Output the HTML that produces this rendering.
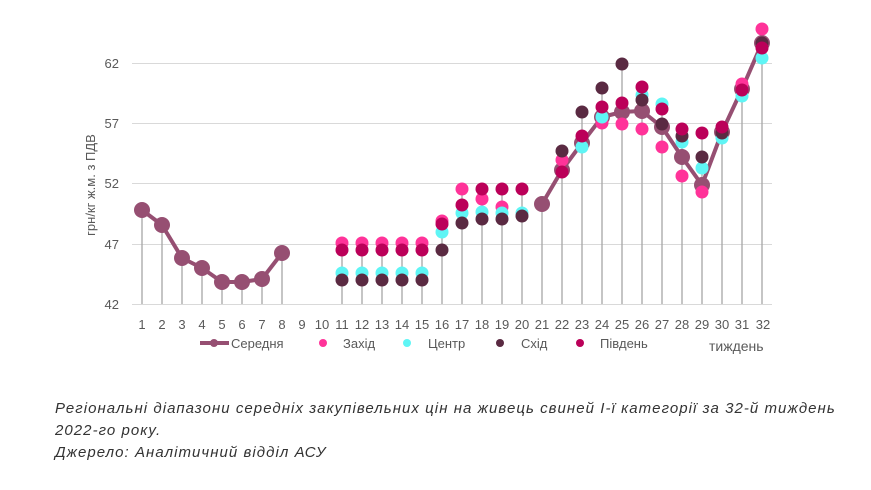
<!DOCTYPE html>
<html><head><meta charset="utf-8"><style>
body{margin:0;background:#fff;width:871px;height:490px;overflow:hidden;font-family:"Liberation Sans",sans-serif}
svg text{font-family:"Liberation Sans",sans-serif}
.cap{position:absolute;left:55px;font-style:italic;font-size:15px;color:#333;line-height:22px;letter-spacing:1.05px;white-space:nowrap}
</style></head><body>
<svg id="s" width="871" height="390" style="position:absolute;left:0;top:0">
<g stroke="#d9d9d9" stroke-width="1">
<line x1="132" x2="772" y1="63.5" y2="63.5"/><line x1="132" x2="772" y1="123.5" y2="123.5"/>
<line x1="132" x2="772" y1="183.5" y2="183.5"/><line x1="132" x2="772" y1="244.5" y2="244.5"/>
<line x1="132" x2="772" y1="304.5" y2="304.5"/>
</g>
<g font-size="13" fill="#595959" text-anchor="end">
<text x="119" y="68">62</text><text x="119" y="128">57</text><text x="119" y="188">52</text><text x="119" y="249">47</text><text x="119" y="309">42</text>
</g>
<text transform="translate(95,185) rotate(-90)" font-size="13" fill="#595959" text-anchor="middle">грн/кг ж.м. з ПДВ</text>
<g id="xl" font-size="13" fill="#595959" text-anchor="middle"></g>
<g id="stems" stroke="#a6a6a6" stroke-width="1.3"></g>
<g id="pts"></g>
<g font-size="13" fill="#595959">
<line x1="200" x2="229" y1="343" y2="343" stroke="#964f72" stroke-width="4"/><circle cx="214" cy="343" r="4" fill="#964f72"/>
<text x="231" y="348">Середня</text>
<circle cx="323" cy="343" r="4" fill="#ff3399"/><text x="343" y="348">Захід</text>
<circle cx="407" cy="343" r="4" fill="#5ff5f5"/><text x="428" y="348">Центр</text>
<circle cx="500" cy="343" r="4" fill="#5a2a42"/><text x="521" y="348">Схід</text>
<circle cx="580" cy="343" r="4" fill="#bb0059"/><text x="600" y="348">Південь</text>
<text x="709" y="351" font-size="14">тиждень</text>
</g>
</svg>
<div class="cap" style="top:398px">Регіональні діапазони середніх закупівельних цін на живець свиней І-ї категорії за 32-й тиждень<br>2022-го року.<br>Джерело: Аналітичний відділ АСУ</div>
<script>
const NS="http://www.w3.org/2000/svg";
const X=w=>142+(w-1)*20;
function el(p,t,a){const e=document.createElementNS(NS,t);for(const k in a)e.setAttribute(k,a[k]);p.appendChild(e);return e;}
const xl=document.getElementById('xl');
for(let w=1;w<=32;w++){const t=el(xl,'text',{x:X(w)+(w==32?1:0),y:329});t.textContent=w;}
const avg={1:210,2:225,3:258,4:268,5:282,6:282,7:279,8:253,21:204,22:170,23:143,24:117,25:112,26:111,27:127,28:157,29:185,30:132,31:89,32:43};
const Z={11:243,12:243,13:243,14:243,15:243,16:221,17:189,18:199,19:207,22:160,24:123,25:124,26:129,27:147,28:176,29:192,31:84,32:29};
const C={11:273,12:273,13:273,14:273,15:273,16:232,17:213,18:212,19:213,20:213,23:147,24:117,26:95,27:104,28:142,29:168,30:138,31:96,32:58};
const S={11:280,12:280,13:280,14:280,15:280,16:250,17:223,18:219,19:219,20:216,22:151,23:112,24:88,25:64,26:100,27:124,28:136,29:157,30:133,32:43};
const P={11:250,12:250,13:250,14:250,15:250,16:224,17:205,18:189,19:189,20:189,22:172,23:136,24:107,25:103,26:87,27:109,28:129,29:133,30:127,31:90,32:48};
const st=document.getElementById('stems'),pts=document.getElementById('pts');
for(let w=1;w<=32;w++){let m=1e9;[avg,Z,C,S,P].forEach(o=>{if(o[w]!==undefined)m=Math.min(m,o[w]);});if(m<1e9)el(st,'line',{x1:X(w),x2:X(w),y1:m,y2:304});}
function line(ws){el(pts,'polyline',{points:ws.map(w=>X(w)+','+avg[w]).join(' '),fill:'none',stroke:'#964f72','stroke-width':4,'stroke-linejoin':'round'});}
line([1,2,3,4,5,6,7,8]);line([21,22,23,24,25,26,27,28,29,30,31,32]);
for(const w in avg)el(pts,'circle',{cx:X(+w),cy:avg[w],r:8,fill:'#964f72'});
[[Z,'#ff3399'],[C,'#5ff5f5'],[S,'#5a2a42'],[P,'#bb0059']].forEach(([o,c])=>{for(const w in o)el(pts,'circle',{cx:X(+w),cy:o[w],r:6.5,fill:c});});
</script>
</body></html>
